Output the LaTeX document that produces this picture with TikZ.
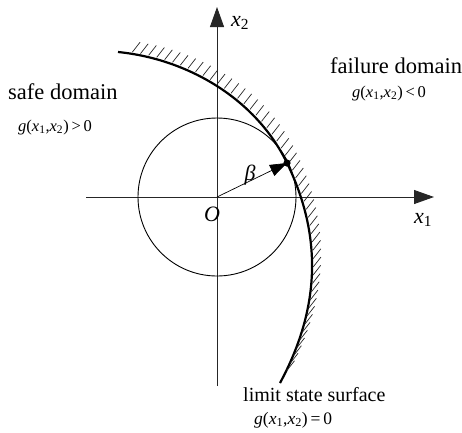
\documentclass[tikz,border=0pt]{standalone}
\usepackage{fontspec}
\setmainfont{Liberation Serif}[ItalicFont=Liberation Serif Italic]
\usetikzlibrary{arrows.meta,decorations.markings}
\tikzset{
  axisline/.style={line width=0.9pt, draw=black!85, -{Triangle[length=20pt,width=14pt]}},
  thincircle/.style={line width=0.9pt},
  limitcurve/.style={line width=2.2pt},
  hatched/.style={postaction={decorate, decoration={markings,
      mark=between positions 0.03 and 0.975 step 8.3pt with {\pgftransformresetnontranslations
        \draw[line width=0.7pt, black!85] (52:2pt) -- (52:14.5pt);}}}},
  bigtext/.style={font=\fontsize{22.5}{25}\selectfont},
  smalltext/.style={font=\fontsize{16.5}{19}\selectfont},
  limtext/.style={font=\fontsize{20}{22}\selectfont},
  axlabel/.style={font=\fontsize{22}{24}\selectfont\itshape},
}
\newcommand{\gx}{\textit{g}(\textit{x}\textsubscript{1},\textit{x}\textsubscript{2})}
\begin{document}
\begin{tikzpicture}[x=1pt,y=-1pt]
\useasboundingbox (0,0) rectangle (462,432);
\coordinate (O) at (217,197);
\coordinate (xl) at (86,197);
\coordinate (xr) at (434,197);
\coordinate (yb) at (217,386);
\coordinate (yt) at (217,7);
\coordinate (P) at (287,163);
\coordinate (A) at (118,52);
\coordinate (B) at (280,383);
% axes
\draw[axisline] (xl) -- (xr);
\draw[axisline] (yb) -- (yt);
% circle
\draw[thincircle] (O) circle[radius=79];
% limit state curve
\draw[limitcurve, hatched] (A) .. controls (188,59) and (256,99) .. (P)
   .. controls (321,233) and (322,305) .. (B);
% beta arrow
\draw[line width=0.7pt, -{Triangle[length=17pt,width=12pt]}] (O) -- (P);
\fill (P) circle[radius=3.6];
% labels
\node[axlabel] (x2) at (240,23) {x\textsubscript{\upshape 2}};
\node[axlabel] (x1) at (423,220) {x\textsubscript{\upshape 1}};
\node[axlabel] (Olab) at (212,214) {O};
\node[axlabel] (beta) at (250,175) {β};
\node[bigtext, anchor=base west, inner sep=0pt] (safe) at (8,99) {safe domain};
\node[smalltext, anchor=base west, inner sep=0pt] (gs) at (18,131) {\gx\,>\,0};
\node[bigtext, anchor=base west, inner sep=0pt] (fail) at (330,73) {failure domain};
\node[smalltext, anchor=base west, inner sep=0pt] (gf) at (352,97) {\gx\,<\,0};
\node[limtext, anchor=base west, inner sep=0pt] (lim) at (243,401) {limit state surface};
\node[smalltext, font=\fontsize{17.5}{20}\selectfont, anchor=base west, inner sep=0pt] (gl) at (254,424) {\gx\,=\,0};
\end{tikzpicture}
\end{document}
